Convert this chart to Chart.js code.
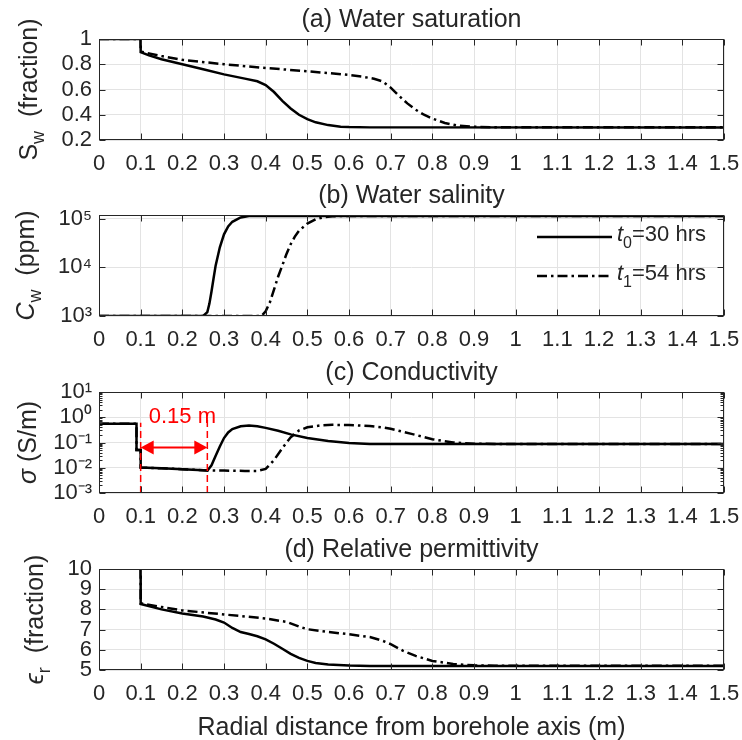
<!DOCTYPE html>
<html><head><meta charset="utf-8">
<script src="https://cdn.jsdelivr.net/npm/chart.js@4.4.1/dist/chart.umd.min.js"></script>
<style>
html,body{margin:0;padding:0;background:#fff;}
#wrap{position:relative;width:742px;height:740px;overflow:hidden;background:#fff;}
canvas{position:absolute;left:0;}
</style></head><body>
<div id="wrap">
<canvas id="ca" width="742" height="176" style="top:0px"></canvas>
<canvas id="cb" width="742" height="177" style="top:176px"></canvas>
<canvas id="cc" width="742" height="177" style="top:353px"></canvas>
<canvas id="cd" width="742" height="210" style="top:530px"></canvas>
</div>
<script>
// ---------------- DATA ----------------
const xTicks = [0,0.1,0.2,0.3,0.4,0.5,0.6,0.7,0.8,0.9,1,1.1,1.2,1.3,1.4,1.5];
const swTicks = [0.2,0.4,0.6,0.8,1];
const cwTicks = [1e3,1e4,1e5];
const sigTicks = [1e-3,1e-2,1e-1,1,10];
const epsTicks = [5,6,7,8,9,10];
const seriesNames = ['t0=30 hrs','t1=54 hrs'];

// (a) water saturation
const swX0 = [0,0.1,0.1,0.12,0.15,0.2,0.25,0.3,0.35,0.38,0.4,0.42,0.44,0.46,0.48,0.5,0.52,0.55,0.58,0.6,0.65,1.5];
const swY0 = [1,1,0.895,0.87,0.84,0.8,0.76,0.72,0.686,0.665,0.635,0.58,0.51,0.45,0.4,0.365,0.34,0.318,0.305,0.302,0.3,0.3];
const swX1 = [0,0.1,0.1,0.15,0.2,0.3,0.4,0.5,0.55,0.6,0.63,0.66,0.68,0.7,0.72,0.74,0.76,0.78,0.8,0.83,0.86,0.9,0.95,1.5];
const swY1 = [1,1,0.9,0.865,0.835,0.8,0.77,0.745,0.73,0.715,0.703,0.685,0.665,0.615,0.55,0.49,0.44,0.4,0.37,0.335,0.315,0.305,0.301,0.301];

// (b) water salinity (ppm)
const cwX0 = [0,0.25,0.26,0.265,0.27,0.275,0.28,0.29,0.3,0.31,0.32,0.34,0.36,0.38,1.5];
const cwY0 = [1000,1000,1200,1800,3200,6000,11000,26000,48000,70000,87000,107000,114000,115000,115000];
const cwX1 = [0,0.39,0.4,0.41,0.42,0.43,0.44,0.45,0.46,0.47,0.48,0.5,0.52,0.54,0.56,0.6,1.5];
const cwY1 = [1000,1000,1250,1900,3500,6500,11000,19000,30000,43000,57000,80000,98000,108000,113000,115000,115000];

// (c) conductivity (S/m)
const sgX0 = [0,0.09,0.09,0.1,0.1,0.15,0.2,0.25,0.26,0.27,0.28,0.29,0.3,0.31,0.32,0.34,0.36,0.38,0.4,0.43,0.46,0.5,0.55,0.6,0.65,1.5];
const sgY0 = [0.55,0.55,0.05,0.05,0.0102,0.0095,0.0088,0.008,0.0076,0.0125,0.03,0.07,0.15,0.25,0.34,0.44,0.47,0.44,0.38,0.29,0.21,0.15,0.115,0.095,0.088,0.087];
const sgX1 = [0,0.09,0.09,0.1,0.1,0.15,0.2,0.25,0.3,0.35,0.38,0.4,0.42,0.44,0.46,0.48,0.5,0.53,0.56,0.6,0.65,0.68,0.7,0.75,0.8,0.85,0.9,0.95,1.5];
const sgY1 = [0.55,0.55,0.05,0.05,0.0102,0.0095,0.0088,0.008,0.0077,0.0075,0.0075,0.009,0.02,0.06,0.16,0.3,0.4,0.47,0.5,0.49,0.45,0.4,0.35,0.22,0.135,0.1,0.09,0.087,0.087];

// (d) relative permittivity
const epX0 = [0,0.1,0.1,0.15,0.2,0.25,0.28,0.3,0.32,0.34,0.36,0.38,0.4,0.42,0.44,0.46,0.48,0.5,0.52,0.55,0.6,0.65,1.5];
const epY0 = [80,80,8.27,8.0,7.8,7.65,7.5,7.35,7.08,6.88,6.78,6.67,6.52,6.3,6.05,5.8,5.6,5.45,5.35,5.27,5.22,5.2,5.2];
const epX1 = [0,0.1,0.1,0.15,0.2,0.3,0.4,0.45,0.48,0.5,0.55,0.6,0.65,0.68,0.7,0.73,0.76,0.8,0.85,0.9,0.95,1.5];
const epY1 = [80,80,8.3,8.12,7.95,7.75,7.55,7.38,7.15,7.02,6.88,6.77,6.63,6.45,6.28,5.95,5.7,5.45,5.3,5.23,5.21,5.21];

// annotation in (c): 0.15 m invasion marker
const markX = [0.1, 0.26];
const markTop = [0.6, 1.5];
const markArrowY = 0.063;
const markText = '0.15 m';
const markTextPos = [0.2, 1.0];

// ---------------- STYLE ----------------
const FONT = '"Liberation Sans", Arial, Helvetica, sans-serif';
const TXT = '#262626';
const AX = '#262626';
const GRID = '#e3e3e3';
const TICK_FS = 22;
const LAB_FS = 25;
const DASHDOT = [10, 4, 2.5, 4];

function xy(xs, ys){ return xs.map((x,i)=>({x:x, y:ys[i]})); }
const SUP = {'0':'\u2070','1':'\u00b9','2':'\u00b2','3':'\u00b3','4':'\u2074','5':'\u2075','6':'\u2076','7':'\u2077','8':'\u2078','9':'\u2079','-':'\u207b'};

function drawRich(ctx, segs, x, y, size, align, rotate, color){
  ctx.save();
  ctx.translate(x, y);
  if (rotate) ctx.rotate(-Math.PI/2);
  ctx.fillStyle = color || TXT;
  ctx.textBaseline = 'middle';
  ctx.textAlign = 'left';
  let total = 0;
  const parts = segs.map(s => {
    const fs = (s.sub || s.sup) ? Math.round(size*0.72) : size;
    const font = (s.it ? 'italic ' : '') + fs + 'px ' + FONT;
    ctx.font = font;
    const w = ctx.measureText(s.t).width;
    total += w;
    return {t:s.t, font:font, w:w, dy: s.sub ? size*0.38 : (s.sup ? -size*0.42 : 0)};
  });
  let cx = align === 'center' ? -total/2 : (align === 'right' ? -total : 0);
  parts.forEach(p => { ctx.font = p.font; ctx.fillText(p.t, cx, p.dy); cx += p.w; });
  ctx.restore();
}

const decor = {
  id: 'decor',
  afterDatasetsDraw(chart, args, o){
    const ctx = chart.ctx, a = chart.chartArea, xs = chart.scales.x, ys = chart.scales.y;
    ctx.save();
    // red annotation
    if (o.annot){
      ctx.strokeStyle = '#ff0000'; ctx.fillStyle = '#ff0000';
      ctx.lineWidth = 1.5; ctx.setLineDash([7,4]);
      markX.forEach((mx,i)=>{
        const px = xs.getPixelForValue(mx);
        ctx.beginPath(); ctx.moveTo(px, a.bottom); ctx.lineTo(px, ys.getPixelForValue(markTop[i])); ctx.stroke();
      });
      ctx.setLineDash([]); ctx.lineWidth = 2;
      const x1 = xs.getPixelForValue(markX[0]), x2 = xs.getPixelForValue(markX[1]), py = ys.getPixelForValue(markArrowY);
      ctx.beginPath(); ctx.moveTo(x1+10, py); ctx.lineTo(x2-10, py); ctx.stroke();
      ctx.beginPath(); ctx.moveTo(x1, py); ctx.lineTo(x1+13, py-7); ctx.lineTo(x1+13, py+7); ctx.closePath(); ctx.fill();
      ctx.beginPath(); ctx.moveTo(x2, py); ctx.lineTo(x2-13, py-7); ctx.lineTo(x2-13, py+7); ctx.closePath(); ctx.fill();
      drawRich(ctx, [{t:markText}], xs.getPixelForValue(markTextPos[0]), ys.getPixelForValue(markTextPos[1]), TICK_FS, 'center', false, '#ff0000');
    }
    // frame + inward ticks
    ctx.strokeStyle = AX; ctx.lineWidth = 1;
    const L = Math.round(a.left)+0.5, R = Math.round(a.right)-0.5, T = Math.round(a.top)+0.5, B = Math.round(a.bottom)-0.5;
    ctx.beginPath();
    xs.ticks.forEach(t => { const p = Math.round(xs.getPixelForValue(t.value))+0.5; ctx.moveTo(p,B); ctx.lineTo(p,B-6); ctx.moveTo(p,T); ctx.lineTo(p,T+6); });
    ys.ticks.forEach(t => { const p = Math.round(ys.getPixelForValue(t.value))+0.5; ctx.moveTo(L,p); ctx.lineTo(L+6,p); ctx.moveTo(R,p); ctx.lineTo(R-6,p); });
    if (o.minor){
      for (let d = -3; d < 1; d++){
        for (let k = 2; k < 10; k++){
          const v = k*Math.pow(10,d);
          const p = Math.round(ys.getPixelForValue(v))+0.5;
          ctx.moveTo(L,p); ctx.lineTo(L+3,p); ctx.moveTo(R,p); ctx.lineTo(R-3,p);
        }
      }
    }
    ctx.stroke();
    ctx.strokeRect(L, T, R-L, B-T);
    // title
    drawRich(ctx, o.title, (a.left+a.right)/2, a.top-19, LAB_FS, 'center', false);
    // y label
    drawRich(ctx, o.ylab, o.ylabX, (a.top+a.bottom)/2, LAB_FS, 'center', true);
    // x label
    if (o.xlab) drawRich(ctx, o.xlab, (a.left+a.right)/2, a.bottom+58, LAB_FS, 'center', false);
    // legend
    if (o.legend){
      const lx1 = 537, lx2 = 612;
      [[a.top+22,[]],[a.top+61,DASHDOT]].forEach((r,i)=>{
        ctx.strokeStyle = '#000'; ctx.lineWidth = 2.5; ctx.setLineDash(r[1]);
        ctx.beginPath(); ctx.moveTo(lx1, r[0]); ctx.lineTo(lx2, r[0]); ctx.stroke();
        ctx.setLineDash([]);
        const nm = seriesNames[i].split('=');
        drawRich(ctx, [{t:'t',it:true},{t:nm[0].slice(1),sub:true},{t:'='+nm[1]}], lx2+5, r[0]-2, TICK_FS, 'left', false);
      });
    }
    ctx.restore();
  }
};

function fmtLog(v){
  const e = Math.round(Math.log10(v));
  return '10' + String(e).split('').map(c=>SUP[c]).join('');
}

function makeChart(id, H, yOpts, sets, deco){
  const dsets = sets.map((s,i)=>({
    label: seriesNames[i],
    data: s,
    borderColor: '#000',
    borderWidth: 2.5,
    borderDash: i === 1 ? DASHDOT : [],
    pointRadius: 0,
    tension: 0,
    fill: false,
    order: i === 0 ? 0 : 1
  }));
  const yTicks = yOpts.ticks;
  return new Chart(document.getElementById(id), {
    type: 'line',
    data: { datasets: dsets },
    options: {
      responsive: false,
      animation: false,
      devicePixelRatio: 1,
      layout: { padding: { top: 39, right: 18, left: 0, bottom: H - 140 - 44 } },
      plugins: { legend: {display:false}, tooltip: {enabled:false}, decor: deco },
      scales: {
        x: {
          type: 'linear', min: 0, max: 1.5,
          afterBuildTicks: s => { s.ticks = xTicks.map(v=>({value:v})); },
          afterFit: s => { s.height = 44; s.paddingLeft = 0; s.paddingRight = 0; },
          ticks: { color: TXT, font: {family: FONT, size: TICK_FS}, padding: 11, maxRotation: 0, autoSkip: false,
                   callback: v => String(v) },
          grid: { color: GRID, drawTicks: false, lineWidth: 1 },
          border: { display: false }
        },
        y: {
          type: yOpts.type, min: yOpts.min, max: yOpts.max,
          afterBuildTicks: s => { s.ticks = yTicks.map(v=>({value:v})); },
          afterFit: s => { s.width = 99; s.paddingTop = 0; s.paddingBottom = 0; },
          ticks: { color: TXT, font: {family: FONT, size: TICK_FS}, padding: 7, autoSkip: false,
                   callback: yOpts.type === 'logarithmic' ? fmtLog : (v => String(v)) },
          grid: { color: GRID, drawTicks: false, lineWidth: 1 },
          border: { display: false }
        }
      }
    },
    plugins: [decor]
  });
}

makeChart('ca', 176, {type:'linear', min:0.2, max:1, ticks:swTicks},
  [xy(swX0,swY0), xy(swX1,swY1)],
  {title:[{t:'(a) Water saturation'}], ylab:[{t:'S'},{t:'w',sub:true},{t:'  (fraction)'}], ylabX:30});
makeChart('cb', 177, {type:'logarithmic', min:1000, max:120000, ticks:cwTicks},
  [xy(cwX0,cwY0), xy(cwX1,cwY1)],
  {title:[{t:'(b) Water salinity'}], ylab:[{t:'C',it:true},{t:'w',sub:true},{t:'  (ppm)'}], ylabX:27, legend:true});
makeChart('cc', 177, {type:'logarithmic', min:1e-3, max:10, ticks:sigTicks},
  [xy(sgX0,sgY0), xy(sgX1,sgY1)],
  {title:[{t:'(c) Conductivity'}], ylab:[{t:'\u03c3',it:true},{t:' (S/m)'}], ylabX:29, minor:true, annot:true});
makeChart('cd', 210, {type:'linear', min:5, max:10, ticks:epsTicks},
  [xy(epX0,epY0), xy(epX1,epY1)],
  {title:[{t:'(d) Relative permittivity'}], ylab:[{t:'\u03f5',it:true},{t:'r',sub:true},{t:'  (fraction)'}], ylabX:36,
   xlab:[{t:'Radial distance from borehole axis (m)'}]});
</script>
</body></html>
